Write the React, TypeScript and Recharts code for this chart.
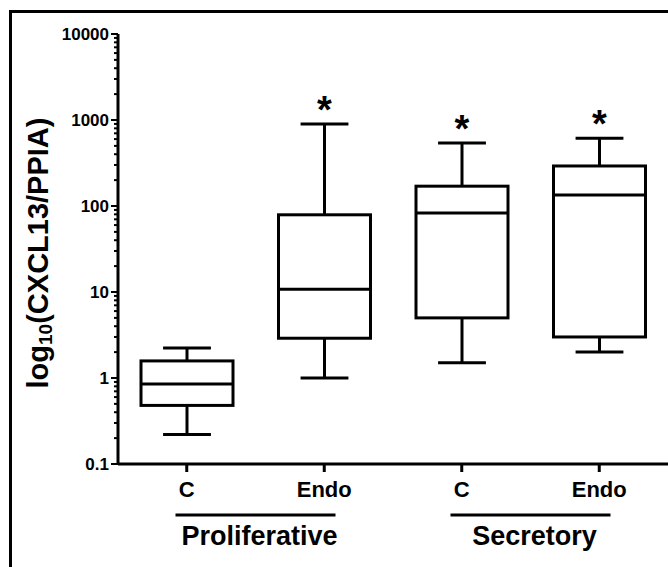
import React from 'react';
import { ComposedChart, Bar, XAxis, YAxis, LabelList } from 'recharts';

// box plot summary per group (log scale)
const categories = ['C', 'Endo', 'C', 'Endo'];
const groups = ['Proliferative', 'Proliferative', 'Secretory', 'Secretory'];
const whiskerLow = [0.22, 1.0, 1.5, 2.0];
const q1 = [0.48, 2.9, 5.0, 3.0];
const median = [0.85, 10.8, 83, 134];
const q3 = [1.58, 79, 170, 292];
const whiskerHigh = [2.23, 900, 540, 615];
const significant = ['', '*', '*', '*'];

const majorTicks = [0.1, 1, 10, 100, 1000, 10000];
const minorSteps = [2, 3, 4, 5, 6, 7, 8, 9];

const FONT = '"Liberation Sans", Arial, Helvetica, sans-serif';

const data = categories.map((name, i) => ({
  key: `${groups[i]}-${name}`,
  name,
  group: groups[i],
  range: [whiskerLow[i], whiskerHigh[i]],
  low: whiskerLow[i],
  q1: q1[i],
  median: median[i],
  q3: q3[i],
  high: whiskerHigh[i],
  sig: significant[i],
}));

const allTicks = [
  ...majorTicks,
  ...majorTicks.slice(0, -1).flatMap((m) => minorSteps.map((s) => m * s)),
].sort((a, b) => a - b);

const isMajor = (v: number) => majorTicks.some((m) => Math.abs(m - v) / m < 1e-6);

const BoxShape = (props: any) => {
  const { x, y, width, height, payload } = props;
  if (height == null || isNaN(height)) return null;
  const lo = Math.log10(payload.low);
  const hi = Math.log10(payload.high);
  const yOf = (v: number) => y + (height * (hi - Math.log10(v))) / (hi - lo);
  const cx = x + width / 2;
  const cap = width * 0.26;
  const s = { stroke: '#000', strokeWidth: 3, fill: 'none' };
  return (
    <g>
      <line x1={cx} x2={cx} y1={yOf(payload.high)} y2={yOf(payload.q3)} {...s} />
      <line x1={cx} x2={cx} y1={yOf(payload.q1)} y2={yOf(payload.low)} {...s} />
      <line x1={cx - cap} x2={cx + cap} y1={yOf(payload.high)} y2={yOf(payload.high)} {...s} />
      <line x1={cx - cap} x2={cx + cap} y1={yOf(payload.low)} y2={yOf(payload.low)} {...s} />
      <rect x={x} y={yOf(payload.q3)} width={width} height={yOf(payload.q1) - yOf(payload.q3)} {...s} />
      <line x1={x} x2={x + width} y1={yOf(payload.median)} y2={yOf(payload.median)} {...s} />
    </g>
  );
};

const StarLabel = (props: any) => {
  const { x, y, width, value } = props;
  if (!value) return null;
  return (
    <text x={x + width / 2} y={y - 1} textAnchor="middle" fontFamily={FONT} fontWeight="bold" fontSize={38} fill="#000">
      {value}
    </text>
  );
};

const YTick = (props: any) => {
  const { x, y, payload } = props;
  const axisX = x + 10;
  const major = isMajor(payload.value);
  return (
    <g>
      <line x1={axisX - (major ? 7 : 4)} x2={axisX} y1={y} y2={y} stroke="#000" strokeWidth={2} />
      {major && (
        <text x={axisX - 9} y={y} dy="0.38em" textAnchor="end" fontFamily={FONT} fontWeight="bold" fontSize={17} fill="#000">
          {payload.value}
        </text>
      )}
    </g>
  );
};

const XTick = (props: any) => {
  const { x, y, payload, index } = props;
  const half = payload.offset ?? 68;
  const d = data[index];
  const firstOfGroup = index === 0 || data[index - 1].group !== d.group;
  return (
    <g>
      <text x={x} y={y + 25} textAnchor="middle" fontFamily={FONT} fontWeight="bold" fontSize={22} fill="#000">
        {d.name}
      </text>
      {firstOfGroup && (
        <g>
          <line x1={x + half - 80} x2={x + half + 80} y1={y + 43} y2={y + 43} stroke="#000" strokeWidth={3} />
          <text x={x + half + 4} y={y + 73} textAnchor="middle" fontFamily={FONT} fontWeight="bold" fontSize={27} fill="#000">
            {d.group}
          </text>
        </g>
      )}
    </g>
  );
};

const YLabel = (props: any) => {
  const { viewBox } = props;
  const cy = viewBox.y + viewBox.height / 2 + 4;
  const cx = 38;
  return (
    <text
      x={cx}
      y={cy}
      transform={`rotate(-90, ${cx}, ${cy})`}
      textAnchor="middle"
      dominantBaseline="central"
      fontFamily={FONT}
      fontWeight="bold"
      fontSize={29}
      fill="#000"
    >
      log<tspan fontSize={19} dy={7}>10</tspan>
      <tspan dy={-7}>(CXCL13/PPIA)</tspan>
    </text>
  );
};

export default function App() {
  return (
    <div style={{ position: 'fixed', left: 0, top: 0, width: 668, height: 567, background: '#fff', overflow: 'hidden' }}>
      <div
        style={{
          position: 'absolute',
          left: 9,
          top: 10,
          width: 700,
          height: 600,
          borderTop: '3px solid #000',
          borderLeft: '3px solid #000',
        }}
      />
      <ComposedChart
        width={668}
        height={567}
        data={data}
        margin={{ top: 34, right: 0, bottom: 0, left: 0 }}
        style={{ position: 'absolute', left: 0, top: 0 }}
      >
        <XAxis
          dataKey="key"
          interval={0}
          tickSize={8}
          tickMargin={0}
          height={103}
          axisLine={{ stroke: '#000', strokeWidth: 3 }}
          tickLine={{ stroke: '#000', strokeWidth: 3 }}
          tick={<XTick />}
        />
        <YAxis
          scale="log"
          domain={[0.1, 10000]}
          allowDataOverflow
          ticks={allTicks}
          interval={0}
          width={118}
          tickSize={7}
          tickMargin={3}
          tickLine={false}
          axisLine={{ stroke: '#000', strokeWidth: 3 }}
          tick={<YTick />}
          label={<YLabel />}
        />
        <Bar dataKey="range" barSize={92} shape={<BoxShape />} isAnimationActive={false}>
          <LabelList dataKey="sig" content={<StarLabel />} />
        </Bar>
      </ComposedChart>
    </div>
  );
}
